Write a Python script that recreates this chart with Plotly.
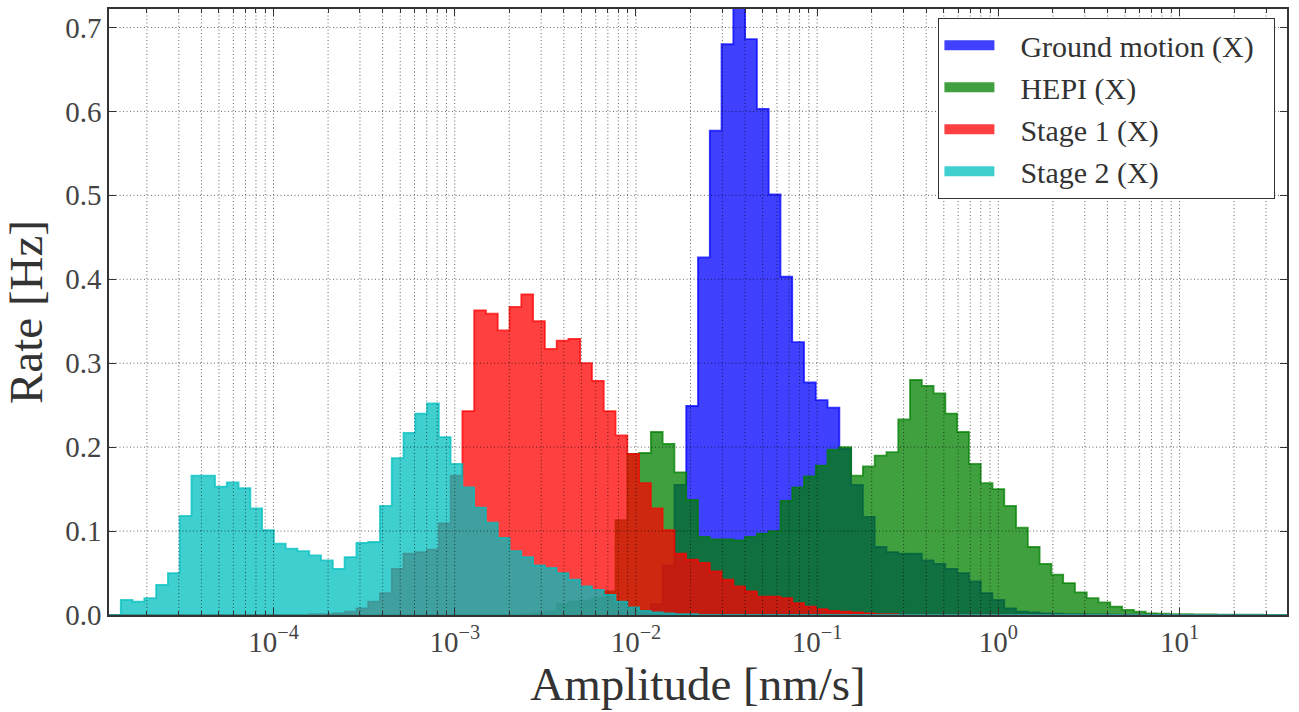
import numpy as np
import plotly.graph_objects as go

# ---- histogram layout: 100 log-spaced amplitude bins (nm/s) ----
BIN_LOG_MIN = -4.908
BIN_LOG_MAX = 1.593
bin_edges = np.logspace(BIN_LOG_MIN, BIN_LOG_MAX, 101)

# ---- rates per bin [Hz] ----
ground_motion_x = [
    0, 0, 0, 0, 0, 0, 0, 0, 0, 0,
    0, 0, 0, 0, 0, 0, 0, 0, 0, 0,
    0, 0, 0, 0, 0, 0, 0, 0, 0, 0,
    0, 0, 0, 0, 0, 0, 0, 0, 0, 0,
    0, 0, 0.001, 0.002, 0.003, 0.005, 0.013, 0.059, 0.155, 0.249,
    0.426, 0.577, 0.680, 0.725, 0.686, 0.603, 0.501, 0.403, 0.325, 0.277,
    0.256, 0.247, 0.198, 0.155, 0.117, 0.081, 0.075, 0.073, 0.073, 0.065,
    0.061, 0.055, 0.050, 0.040, 0.026, 0.018, 0.008, 0.004, 0.003, 0.002,
    0.0015, 0.001, 0.001, 0.0008, 0.0006, 0.0005, 0.0004, 0.0003, 0.0002, 0.0002,
    0.0001, 0.0001, 0.0001, 0.0001, 0.0001, 0.0001, 0.0001, 0.0001, 0.0001, 0.0001,
]

hepi_x = [
    0, 0, 0, 0, 0, 0, 0, 0, 0, 0,
    0, 0, 0, 0, 0, 0, 0, 0, 0, 0,
    0, 0, 0, 0, 0, 0, 0, 0, 0, 0,
    0, 0, 0, 0, 0, 0.001, 0.002, 0.004, 0.013, 0.016,
    0.017, 0.020, 0.028, 0.113, 0.192, 0.193, 0.218, 0.204, 0.170, 0.137,
    0.093, 0.090, 0.090, 0.089, 0.093, 0.097, 0.100, 0.136, 0.152, 0.165,
    0.178, 0.197, 0.200, 0.166, 0.177, 0.190, 0.194, 0.233, 0.280, 0.273,
    0.264, 0.240, 0.218, 0.180, 0.157, 0.150, 0.130, 0.104, 0.081, 0.061,
    0.048, 0.038, 0.027, 0.020, 0.015, 0.010, 0.006, 0.004, 0.002, 0.0015,
    0.001, 0.001, 0.0008, 0.0006, 0.0005, 0.0004, 0.0003, 0.0003, 0.0002, 0.0002,
]

stage1_x = [
    0, 0, 0, 0, 0, 0, 0, 0, 0, 0,
    0, 0, 0, 0, 0, 0, 0, 0.001, 0.001, 0.002,
    0.004, 0.008, 0.016, 0.026, 0.055, 0.073, 0.075, 0.078, 0.109, 0.166,
    0.243, 0.363, 0.359, 0.339, 0.367, 0.382, 0.350, 0.317, 0.327, 0.329,
    0.300, 0.279, 0.243, 0.214, 0.192, 0.157, 0.127, 0.101, 0.073, 0.066,
    0.062, 0.052, 0.042, 0.034, 0.028, 0.022, 0.022, 0.020, 0.014, 0.010,
    0.007, 0.005, 0.004, 0.003, 0.002, 0.001, 0.001, 0, 0, 0,
    0, 0, 0, 0, 0, 0, 0, 0, 0, 0,
    0, 0, 0, 0, 0, 0, 0, 0, 0, 0,
    0, 0, 0, 0, 0, 0, 0, 0, 0, 0,
]

stage2_x = [
    0, 0.018, 0.016, 0.020, 0.036, 0.050, 0.118, 0.166, 0.166, 0.153,
    0.158, 0.151, 0.127, 0.101, 0.085, 0.079, 0.076, 0.071, 0.065, 0.055,
    0.069, 0.086, 0.087, 0.130, 0.187, 0.217, 0.240, 0.252, 0.212, 0.180,
    0.152, 0.128, 0.110, 0.092, 0.076, 0.069, 0.059, 0.056, 0.050, 0.042,
    0.034, 0.030, 0.024, 0.016, 0.009, 0.005, 0.003, 0.002, 0.001, 0.001,
    0, 0, 0, 0, 0, 0, 0, 0, 0, 0,
    0, 0, 0, 0, 0, 0, 0, 0, 0, 0,
    0, 0, 0, 0, 0, 0, 0, 0, 0, 0,
    0, 0, 0, 0, 0, 0, 0, 0, 0, 0,
    0, 0, 0, 0, 0, 0, 0, 0, 0, 0,
]

series_names = ["Ground motion (X)", "HEPI (X)", "Stage 1 (X)", "Stage 2 (X)"]
series_values = [ground_motion_x, hepi_x, stage1_x, stage2_x]
series_rgb = ["0,0,255", "0,128,0", "255,0,0", "0,191,191"]
ALPHA = 0.75

# ---- axes ----
Y_MAX = 0.722
x_major_ticks = [1e-4, 1e-3, 1e-2, 1e-1, 1e0, 1e1]
x_tick_labels = ["10<sup>\u22124</sup>", "10<sup>\u22123</sup>", "10<sup>\u22122</sup>",
                 "10<sup>\u22121</sup>", "10<sup>0</sup>", "10<sup>1</sup>"]
y_ticks = [0.0, 0.1, 0.2, 0.3, 0.4, 0.5, 0.6, 0.7]
y_tick_labels = ["0.0", "0.1", "0.2", "0.3", "0.4", "0.5", "0.6", "0.7"]

x_lo, x_hi = bin_edges[0], bin_edges[-1]
x_minor_ticks = [m * 10.0 ** e for e in range(-5, 2) for m in range(2, 10)
                 if x_lo < m * 10.0 ** e < x_hi]

FONT = "Liberation Serif"
fig = go.Figure()

# stepfilled histograms, drawn in order so later ones sit on top
for name, vals, rgb in zip(series_names, series_values, series_rgb):
    col = f"rgba({rgb},{ALPHA})"
    fig.add_trace(go.Scatter(
        x=bin_edges, y=list(vals) + [vals[-1]],
        mode="lines", line=dict(shape="hv", color=col, width=1.8),
        fill="tozeroy", fillcolor=col,
        name=name, legendgroup=name, showlegend=False, hoverinfo="skip",
    ))

# dotted grid drawn over the filled histograms
grid_dash = "1px,2.5px"
grid_col = "rgba(0,0,0,0.6)"
gx, gy = [], []
for v in sorted(x_minor_ticks + x_major_ticks):
    gx += [v, v, None]
    gy += [0, Y_MAX, None]
fig.add_trace(go.Scatter(x=gx, y=gy, mode="lines", showlegend=False, hoverinfo="skip",
                         line=dict(color=grid_col, width=1, dash=grid_dash)))
hx, hy = [], []
for v in y_ticks[1:]:
    hx += [x_lo, x_hi, None]
    hy += [v, v, None]
fig.add_trace(go.Scatter(x=hx, y=hy, mode="lines", showlegend=False, hoverinfo="skip",
                         line=dict(color=grid_col, width=1, dash=grid_dash)))

# legend entries (wide swatch, spaced away from the label)
for name, rgb in zip(series_names, series_rgb):
    fig.add_trace(go.Scatter(
        x=[None], y=[None], mode="lines", name="\u2002\u2009" + name + "\u2002",
        legendgroup=name,
        line=dict(color=f"rgba({rgb},{ALPHA})", width=11),
    ))

axis_common = dict(
    showline=True, linecolor="#333333", linewidth=1.5, mirror="allticks",
    ticks="inside", ticklen=7, tickwidth=1, tickcolor="#333333",
    showgrid=False, zeroline=False,
    tickfont=dict(family=FONT, size=29, color="#444444"),
)

fig.update_layout(
    width=1299, height=712,
    margin=dict(l=109, r=12, t=7, b=97),
    paper_bgcolor="white", plot_bgcolor="white",
    font=dict(family=FONT, color="#333333"),
    xaxis=dict(
        type="log", range=[BIN_LOG_MIN, BIN_LOG_MAX],
        tickmode="array", tickvals=x_major_ticks, ticktext=x_tick_labels,
        minor=dict(tickmode="array", tickvals=x_minor_ticks, ticks="inside",
                   ticklen=4, tickcolor="#333333", showgrid=False),
        title=dict(text="Amplitude [nm/s]", font=dict(family=FONT, size=47, color="#333333"),
                   standoff=6),
        **axis_common,
    ),
    yaxis=dict(
        range=[0, Y_MAX],
        tickmode="array", tickvals=y_ticks, ticktext=y_tick_labels,
        title=dict(text="Rate [Hz]", font=dict(family=FONT, size=47, color="#333333"),
                   standoff=14),
        **axis_common,
    ),
    legend=dict(
        x=0.99, y=0.985, xanchor="right", yanchor="top",
        bgcolor="white", bordercolor="#333333", borderwidth=1.2,
        font=dict(family=FONT, size=30, color="#333333"),
        tracegroupgap=0, itemwidth=50,
    ),
    showlegend=True,
)

fig.write_html("out.html")
